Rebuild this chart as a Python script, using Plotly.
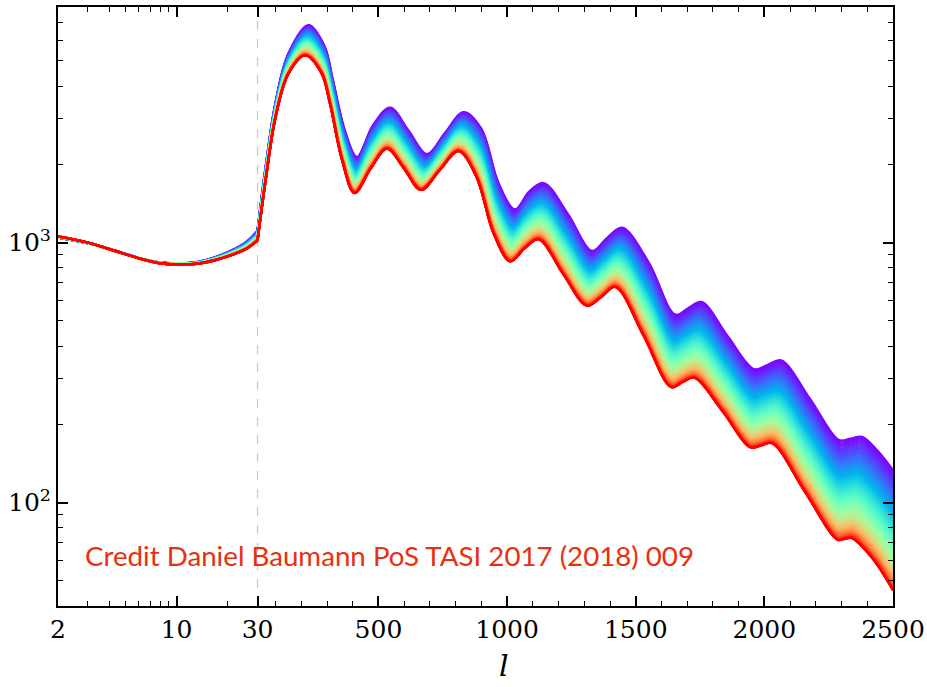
import numpy as np
import plotly.graph_objects as go

# Hybrid multipole axis: logarithmic for l < 30, linear for l >= 30
L_SPLIT = 30
UNITS_PER_DECADE = 659.5


def to_axis(l):
    l = np.asarray(l, dtype=float)
    return np.where(l < L_SPLIT, L_SPLIT - UNITS_PER_DECADE * np.log10(L_SPLIT / l), l)


# Low-l plateau (same multipoles for both envelope spectra)
ell_low = [2, 3, 4, 6, 8, 10, 13, 17, 22, 26, 30]
cl_low_bottom = [1057, 1000, 945, 870, 832, 825, 828, 857, 905, 950, 1020]
cl_low_top = [1045, 995, 945, 872, 838, 832, 840, 880, 945, 1010, 1110]

# Acoustic peaks, lowest (red) spectrum
ell_high_bottom = [30, 60, 100, 150, 215, 278, 311, 359, 407, 470, 533, 599, 665, 738,
                   811, 880, 948, 1012, 1068, 1123, 1217, 1310, 1366, 1421, 1530, 1638,
                   1683, 1728, 1837, 1946, 1988, 2031, 2158, 2284, 2312, 2340, 2420, 2500]
cl_high_bottom = [1020, 1700, 3040, 4467, 5253, 4500, 3450, 2072, 1552, 1930, 2299, 1930,
                  1595, 1900, 2250, 1800, 1083, 847, 950, 1030, 760, 572, 618, 675, 440,
                  278, 291, 302, 225, 163, 166, 169, 110, 72, 72.5, 73, 61, 46]

# Acoustic peaks, highest (violet) spectrum
ell_high_top = [30, 60, 100, 150, 228, 290, 322, 369, 416, 480, 545, 616, 688, 760,
                831, 899, 966, 1030, 1086, 1142, 1236, 1330, 1388, 1447, 1550, 1654,
                1705, 1755, 1858, 1960, 2012, 2065, 2178, 2290, 2335, 2380, 2440, 2500]
cl_high_top = [1110, 1900, 3450, 5335, 6855, 5700, 4246, 2704, 2134, 2840, 3304, 2704,
               2188, 2650, 3177, 2750, 1700, 1340, 1570, 1694, 1290, 928, 1040, 1140, 840,
               528, 560, 591, 435, 326, 338, 352, 250, 174, 176, 179, 158, 133]

# Family of spectra, coloured along the parameter scan
n_curves = 80
shape_power = 1.6

x_ticks_l = [2, 10, 30, 500, 1000, 1500, 2000, 2500]
x_tick_text = ["2", "10", "30", "500", "1000", "1500", "2000", "2500"]
x_minor_l = [3, 4, 5, 6, 7, 8, 9, 20] + [v for v in range(100, 2500, 100) if v % 500 != 0]
y_ticks = [100, 1000]
y_tick_text = ["10<sup>2</sup>", "10<sup>3</sup>"]
y_minor = [50, 60, 70, 80, 90] + list(range(200, 1000, 100)) + list(range(2000, 9000, 1000))

credit = "Credit Daniel Baumann PoS TASI 2017 (2018) 009"

SERIF = "DejaVu Serif"


def rainbow(t):
    r = min(1.0, abs(2 * t - 0.5))
    g = np.sin(np.pi * t)
    b = np.cos(np.pi * t / 2)
    return "rgb(%d,%d,%d)" % (round(255 * r), round(255 * g), round(255 * b))


def blend(a, b, w):
    return np.asarray(a, float) * w + np.asarray(b, float) * (1 - w)


fig = go.Figure()

# reference line at the axis break
fig.add_shape(type="line", xref="x", yref="paper", x0=30, x1=30, y0=0, y1=1,
              line=dict(color="#c8c8c8", width=1.2, dash="dash"), layer="below")

u_low = to_axis(ell_low)
for k in range(n_curves):
    t = k / (n_curves - 1)
    w = (1 - t) ** shape_power
    col = rainbow(t)
    y_low = 10 ** blend(np.log10(cl_low_top), np.log10(cl_low_bottom), w)
    fig.add_trace(go.Scatter(x=u_low, y=y_low, mode="lines",
                             line=dict(color=col, width=2.4, shape="spline"),
                             hoverinfo="skip", showlegend=False))
    x_high = blend(ell_high_top, ell_high_bottom, w)
    y_high = 10 ** blend(np.log10(cl_high_top), np.log10(cl_high_bottom), w)
    fig.add_trace(go.Scatter(x=x_high, y=y_high, mode="lines",
                             line=dict(color=col, width=2.4, shape="spline"),
                             hoverinfo="skip", showlegend=False))

fig.add_annotation(text=credit, xref="paper", yref="paper", x=0.030, y=0.085,
                   xanchor="left", yanchor="middle", showarrow=False,
                   font=dict(family="Lato", size=27.7, color="#e8300e"))
fig.add_annotation(text="<i>l</i>", xref="paper", yref="paper", x=0.534, y=-0.1,
                   xanchor="center", yanchor="middle", showarrow=False,
                   font=dict(family=SERIF, size=30, color="black"))

axis_common = dict(showline=True, linecolor="black", linewidth=2, mirror="allticks",
                   ticks="inside", ticklen=10, tickwidth=1.5, tickcolor="black",
                   showgrid=False, zeroline=False, automargin=False,
                   tickfont=dict(family=SERIF, size=25, color="black"))

fig.update_xaxes(range=[float(to_axis(2)), 2500], tickmode="array",
                 tickvals=list(to_axis(x_ticks_l)), ticktext=x_tick_text,
                 minor=dict(tickmode="array", tickvals=list(to_axis(x_minor_l)),
                            ticks="inside", ticklen=5, tickwidth=1.2, tickcolor="black",
                            showgrid=False),
                 **axis_common)
fig.update_yaxes(type="log", range=[np.log10(40), np.log10(8060)], tickmode="array",
                 tickvals=y_ticks, ticktext=y_tick_text,
                 minor=dict(tickmode="array", tickvals=y_minor,
                            ticks="inside", ticklen=5, tickwidth=1.2, tickcolor="black",
                            showgrid=False),
                 **axis_common)

fig.update_layout(width=927, height=687,
                  margin=dict(l=58, r=34, t=7, b=81),
                  plot_bgcolor="white", paper_bgcolor="white",
                  showlegend=False,
                  font=dict(family=SERIF, size=25, color="black"))

fig.write_html("out.html")
